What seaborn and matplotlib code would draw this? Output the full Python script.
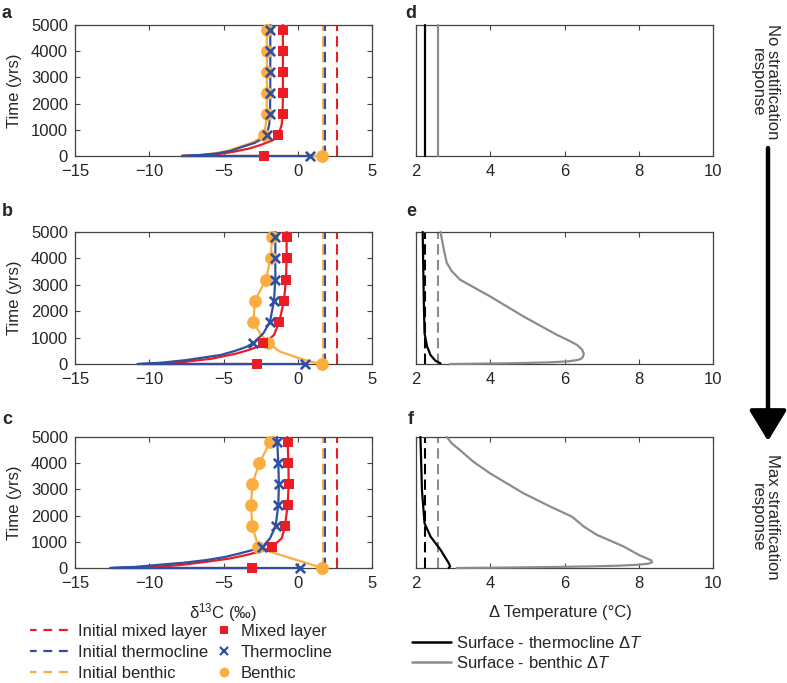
import matplotlib
matplotlib.use("Agg")
import matplotlib.pyplot as plt
from matplotlib.lines import Line2D
import seaborn as sns
import pandas as pd

sns.set_style("ticks")
plt.rcParams['font.family'] = ['Liberation Sans', 'DejaVu Sans']
plt.rcParams['mathtext.fontset'] = 'custom'
plt.rcParams['mathtext.rm'] = 'Liberation Sans'
plt.rcParams['mathtext.it'] = 'Liberation Sans:italic'
plt.rcParams['font.size'] = 12

RED = '#EC1C24'
BLUE = '#2F4FA2'
ORANGE = '#FBAD3F'
GRAY = '#8C8C8C'
BLACK = '#000000'

# ---------------- data ----------------
marker_t = [0, 800, 1600, 2400, 3200, 4000, 4800]

init_mixed = 2.64
init_therm = 1.85
init_benth = 1.70

# panel a (no stratification response)
a_mix_mk = [-2.3, -1.3, -1.02, -1.0, -1.0, -1.0, -1.0]
a_therm_mk = [0.84, -2.09, -1.87, -1.85, -1.85, -1.85, -1.85]
a_benth_mk = [1.63, -2.3, -2.09, -2.08, -2.08, -2.08, -2.08]
a_mix_t = [0, 0, 20, 50, 100, 165, 280, 420, 610, 800, 1200, 1600, 2400, 5000]
a_mix_v = [-2.3, -7.8, -6.9, -6.0, -5.0, -4.3, -3.3, -2.5, -1.65, -1.3, -1.08, -1.02, -1.0, -1.0]
a_therm_t = [0, 0, 40, 100, 200, 355, 500, 670, 800, 1200, 1600, 2400, 5000]
a_therm_v = [0.84, -7.8, -6.5, -5.4, -4.5, -3.7, -2.9, -2.35, -2.09, -1.92, -1.87, -1.85, -1.85]
a_benth_t = [0, 0, 40, 100, 200, 355, 500, 670, 800, 1200, 1600, 2400, 5000]
a_benth_v = [1.63, -7.8, -6.6, -5.6, -4.7, -3.9, -3.1, -2.55, -2.3, -2.15, -2.09, -2.08, -2.08]

# panel b
b_mix_mk = [-2.75, -2.32, -1.24, -0.93, -0.79, -0.75, -0.75]
b_therm_mk = [0.5, -2.98, -1.87, -1.6, -1.51, -1.51, -1.51]
b_benth_mk = [1.61, -1.98, -2.99, -2.88, -2.14, -1.83, -1.72]
b_mix_t = [0, 0, 30, 90, 200, 400, 550, 690, 800, 950, 1100, 1600, 2400, 3200, 4000, 5000]
b_mix_v = [-2.75, -10.5, -9.0, -7.5, -5.8, -4.1, -3.2, -2.55, -2.32, -1.9, -1.6, -1.24, -0.93, -0.79, -0.75, -0.75]
b_therm_t = [0, 0, 20, 60, 150, 340, 500, 650, 800, 1160, 1600, 2400, 3200, 4000, 5000]
b_therm_v = [0.5, -10.8, -10.0, -9.0, -7.5, -5.2, -4.2, -3.45, -2.98, -2.32, -1.87, -1.6, -1.51, -1.51, -1.51]
b_benth_t = [0, 80, 210, 470, 800, 1160, 1600, 2400, 3200, 4000, 4800, 5000]
b_benth_v = [1.61, 0.9, 0.15, -1.2, -1.98, -2.54, -2.99, -2.88, -2.14, -1.83, -1.72, -1.7]

# panel c (max stratification response)
c_mix_mk = [-3.09, -1.76, -0.86, -0.68, -0.61, -0.63, -0.68]
c_therm_mk = [0.17, -2.39, -1.49, -1.31, -1.27, -1.31, -1.38]
c_benth_mk = [1.66, -2.65, -3.06, -3.15, -3.06, -2.59, -1.87]
c_mix_t = [0, 0, 20, 50, 120, 240, 360, 500, 650, 800, 1130, 1600, 2400, 3200, 4000, 4800, 5000]
c_mix_v = [-3.09, -12.4, -11.0, -9.5, -7.8, -6.1, -4.6, -3.44, -2.4, -1.76, -1.08, -0.86, -0.68, -0.61, -0.63, -0.68, -0.7]
c_therm_t = [0, 0, 40, 115, 200, 305, 420, 560, 700, 800, 1130, 1600, 2400, 3200, 4000, 4800, 5000]
c_therm_v = [0.17, -12.64, -11.0, -9.5, -7.7, -6.13, -4.9, -3.89, -2.95, -2.39, -1.87, -1.49, -1.31, -1.27, -1.31, -1.38, -1.4]
c_benth_t = [0, 305, 620, 800, 1600, 2400, 3200, 4000, 4800, 5000]
c_benth_v = [1.66, -0.07, -1.87, -2.65, -3.06, -3.15, -3.06, -2.59, -1.87, -1.6]

# temperature differences
init_dT_therm = 2.23
init_dT_benth = 2.58
d_t = [0, 5000]
d_therm_v = [2.23, 2.23]
d_benth_v = [2.58, 2.58]
e_therm_t = [5000, 2430, 1165, 658, 342, 127, 25]
e_therm_v = [2.18, 2.21, 2.23, 2.30, 2.39, 2.52, 2.66]
e_benth_t = [5000, 4329, 3823, 3506, 3190, 2557, 1797, 1101, 900, 722, 550, 405, 280, 200, 152, 100, 63, 40, 25, 13, 0]
e_benth_v = [2.66, 2.75, 2.83, 2.97, 3.19, 4.00, 4.90, 5.80, 6.10, 6.34, 6.47, 6.52, 6.50, 6.45, 6.36, 6.10, 5.60, 5.00, 4.40, 3.70, 2.92]
f_therm_t = [5000, 2975, 1709, 1203, 696, 190, 63, 0]
f_therm_v = [2.12, 2.16, 2.23, 2.39, 2.66, 2.88, 2.92, 2.88]
f_benth_t = [5000, 4747, 4494, 4051, 3608, 2848, 2342, 1962, 1582, 1266, 823, 500, 291, 220, 165, 120, 89, 63, 40, 25, 10, 0]
f_benth_v = [2.83, 2.97, 3.19, 3.55, 4.00, 4.90, 5.62, 6.20, 6.52, 6.87, 7.59, 8.00, 8.34, 8.36, 8.26, 7.95, 7.45, 6.75, 5.80, 4.90, 3.90, 3.10]

left_xticks = [-15, -10, -5, 0, 5]
right_xticks = [2, 4, 6, 8, 10]
yticks = [0, 1000, 2000, 3000, 4000, 5000]

# ---------------- figure ----------------
W, H = 787, 683
fig = plt.figure(figsize=(W / 100, H / 100), dpi=100)

def px_axes(x0, x1, y0, y1):
    return fig.add_axes([x0 / W, 1 - y1 / H, (x1 - x0) / W, (y1 - y0) / H])

rows = [(25, 156), (232, 364), (437, 568)]
left_axes = [px_axes(75, 372, r0, r1) for r0, r1 in rows]
right_axes = [px_axes(416, 713, r0, r1) for r0, r1 in rows]

def style(ax):
    for s in ax.spines.values():
        s.set_color('#444444')
        s.set_linewidth(0.9)
    ax.tick_params(direction='in', length=3.5, width=0.8, color='#444444',
                   top=True, right=True, labelsize=12)
    ax.tick_params(axis='x', pad=6)
    ax.tick_params(axis='y', pad=5)

def line(ax, x, y, color, lw=1.6, z=3, **kw):
    df = pd.DataFrame({'x': x, 'y': y})
    sns.lineplot(data=df, x='x', y='y', sort=False, estimator=None, ax=ax,
                 color=color, lw=lw, legend=False, clip_on=False, zorder=z, **kw)

def marks(ax, x, y, marker, color, s):
    df = pd.DataFrame({'x': x, 'y': y})
    kw = dict(marker=marker, s=s, ax=ax, legend=False, clip_on=False, zorder=5)
    if marker == 'x':
        sns.scatterplot(data=df, x='x', y='y', color=color, linewidth=1.9, **kw)
    else:
        sns.scatterplot(data=df, x='x', y='y', color=color, linewidth=0, **kw)

left_data = [
    (a_mix_t, a_mix_v, a_therm_t, a_therm_v, a_benth_t, a_benth_v, a_mix_mk, a_therm_mk, a_benth_mk),
    (b_mix_t, b_mix_v, b_therm_t, b_therm_v, b_benth_t, b_benth_v, b_mix_mk, b_therm_mk, b_benth_mk),
    (c_mix_t, c_mix_v, c_therm_t, c_therm_v, c_benth_t, c_benth_v, c_mix_mk, c_therm_mk, c_benth_mk),
]

dash = (0, (5, 2.5))
for ax, (mt, mv, tt, tv, bt, bv, mmk, tmk, bmk) in zip(left_axes, left_data):
    style(ax)
    for xv, c in [(init_benth, ORANGE), (init_therm, BLUE), (init_mixed, RED)]:
        line(ax, [xv, xv], [0, 5000], c, lw=1.5, z=2, linestyle=dash)
    line(ax, bv, bt, ORANGE)
    line(ax, mv, mt, RED)
    line(ax, tv, tt, BLUE)
    marks(ax, bmk, marker_t, 'o', ORANGE, 85)
    marks(ax, mmk, marker_t, 's', RED, 58)
    marks(ax, tmk, marker_t, 'x', BLUE, 45)
    ax.set_xlim(-15, 5)
    ax.set_ylim(0, 5000)
    ax.set_xticks(left_xticks)
    ax.set_yticks(yticks)
    ax.set_xlabel('')
    ax.set_ylabel('Time (yrs)', fontsize=12)
    ax.yaxis.set_label_coords(-0.178, 0.5)

right_data = [
    (d_t, d_therm_v, d_t, d_benth_v, False),
    (e_therm_t, e_therm_v, e_benth_t, e_benth_v, True),
    (f_therm_t, f_therm_v, f_benth_t, f_benth_v, True),
]
for ax, (tt, tv, bt, bv, show_init) in zip(right_axes, right_data):
    style(ax)
    ax.tick_params(left=False, right=False)
    if show_init:
        line(ax, [init_dT_therm, init_dT_therm], [0, 5000], BLACK, lw=1.5, z=2, linestyle=(0, (5, 2.5)))
        line(ax, [init_dT_benth, init_dT_benth], [0, 5000], GRAY, lw=1.5, z=2, linestyle=(0, (5, 2.5)))
    line(ax, bv, bt, GRAY, lw=1.6)
    line(ax, tv, tt, BLACK, lw=1.6)
    ax.set_xlim(2, 10)
    ax.set_ylim(0, 5000)
    ax.set_xticks(right_xticks)
    ax.set_yticks([])
    ax.set_xlabel('')
    ax.set_ylabel('')

# panel letters
for lab, (x, y) in zip('abcdef', [(7, 14), (7, 211), (7, 420), (411, 14), (411, 211), (411, 420)]):
    fig.text(x / W, 1 - y / H, lab, fontsize=13, fontweight='bold', ha='center', va='center')

# axis titles
fig.text(223 / W, 1 - 613 / H, r'δ$^{13}$C (‰)', fontsize=12, ha='center', va='center')
fig.text(560 / W, 1 - 613 / H, 'Δ Temperature (°C)', fontsize=12, ha='center', va='center')

# arrow and side texts
fig.patches.append(matplotlib.patches.FancyArrowPatch(
    (768 / W, 1 - 148 / H), (768 / W, 1 - 441 / H), transform=fig.transFigure,
    arrowstyle='-|>,head_width=0.58,head_length=0.95', mutation_scale=20,
    lw=3.2, color='black', shrinkA=0, shrinkB=0))
fig.text(765 / W, 1 - 82 / H, 'No stratification\nresponse', rotation=270,
         ha='center', va='center', fontsize=12, linespacing=1.0)
fig.text(765 / W, 1 - 517 / H, 'Max stratification\nresponse', rotation=270,
         ha='center', va='center', fontsize=12, linespacing=1.0)

# legends
leg_dash = (1, (4, 3))
h1 = [Line2D([], [], color=RED, lw=1.6, linestyle=leg_dash),
      Line2D([], [], color=BLUE, lw=1.6, linestyle=leg_dash),
      Line2D([], [], color=ORANGE, lw=1.6, linestyle=leg_dash)]
l1 = ['Initial mixed layer', 'Initial thermocline', 'Initial benthic']
fig.legend(h1, l1, loc='upper left', bbox_to_anchor=(30 / W, 1 - 624 / H),
           frameon=False, fontsize=12, handlelength=2.55, handletextpad=0.3,
           labelspacing=0.36, borderpad=0, borderaxespad=0)
h2 = [Line2D([], [], color=RED, marker='s', linestyle='none', markersize=6, markeredgewidth=0),
      Line2D([], [], color=BLUE, marker='x', linestyle='none', markersize=6, markeredgewidth=1.6),
      Line2D([], [], color=ORANGE, marker='o', linestyle='none', markersize=7, markeredgewidth=0)]
l2 = ['Mixed layer', 'Thermocline', 'Benthic']
fig.legend(h2, l2, loc='upper left', bbox_to_anchor=(216 / W, 1 - 624 / H),
           frameon=False, fontsize=12, handlelength=1.0, handletextpad=0.5,
           labelspacing=0.36, borderpad=0, borderaxespad=0)
h3 = [Line2D([], [], color=BLACK, lw=1.8), Line2D([], [], color=GRAY, lw=1.8)]
l3 = [r'Surface - thermocline Δ$T$', r'Surface - benthic Δ$T$']
fig.legend(h3, l3, loc='upper left', bbox_to_anchor=(412 / W, 1 - 635 / H),
           frameon=False, fontsize=12, handlelength=2.35, handletextpad=0.3,
           labelspacing=0.25, borderpad=0, borderaxespad=0)

fig.savefig('out.png', dpi=100)
